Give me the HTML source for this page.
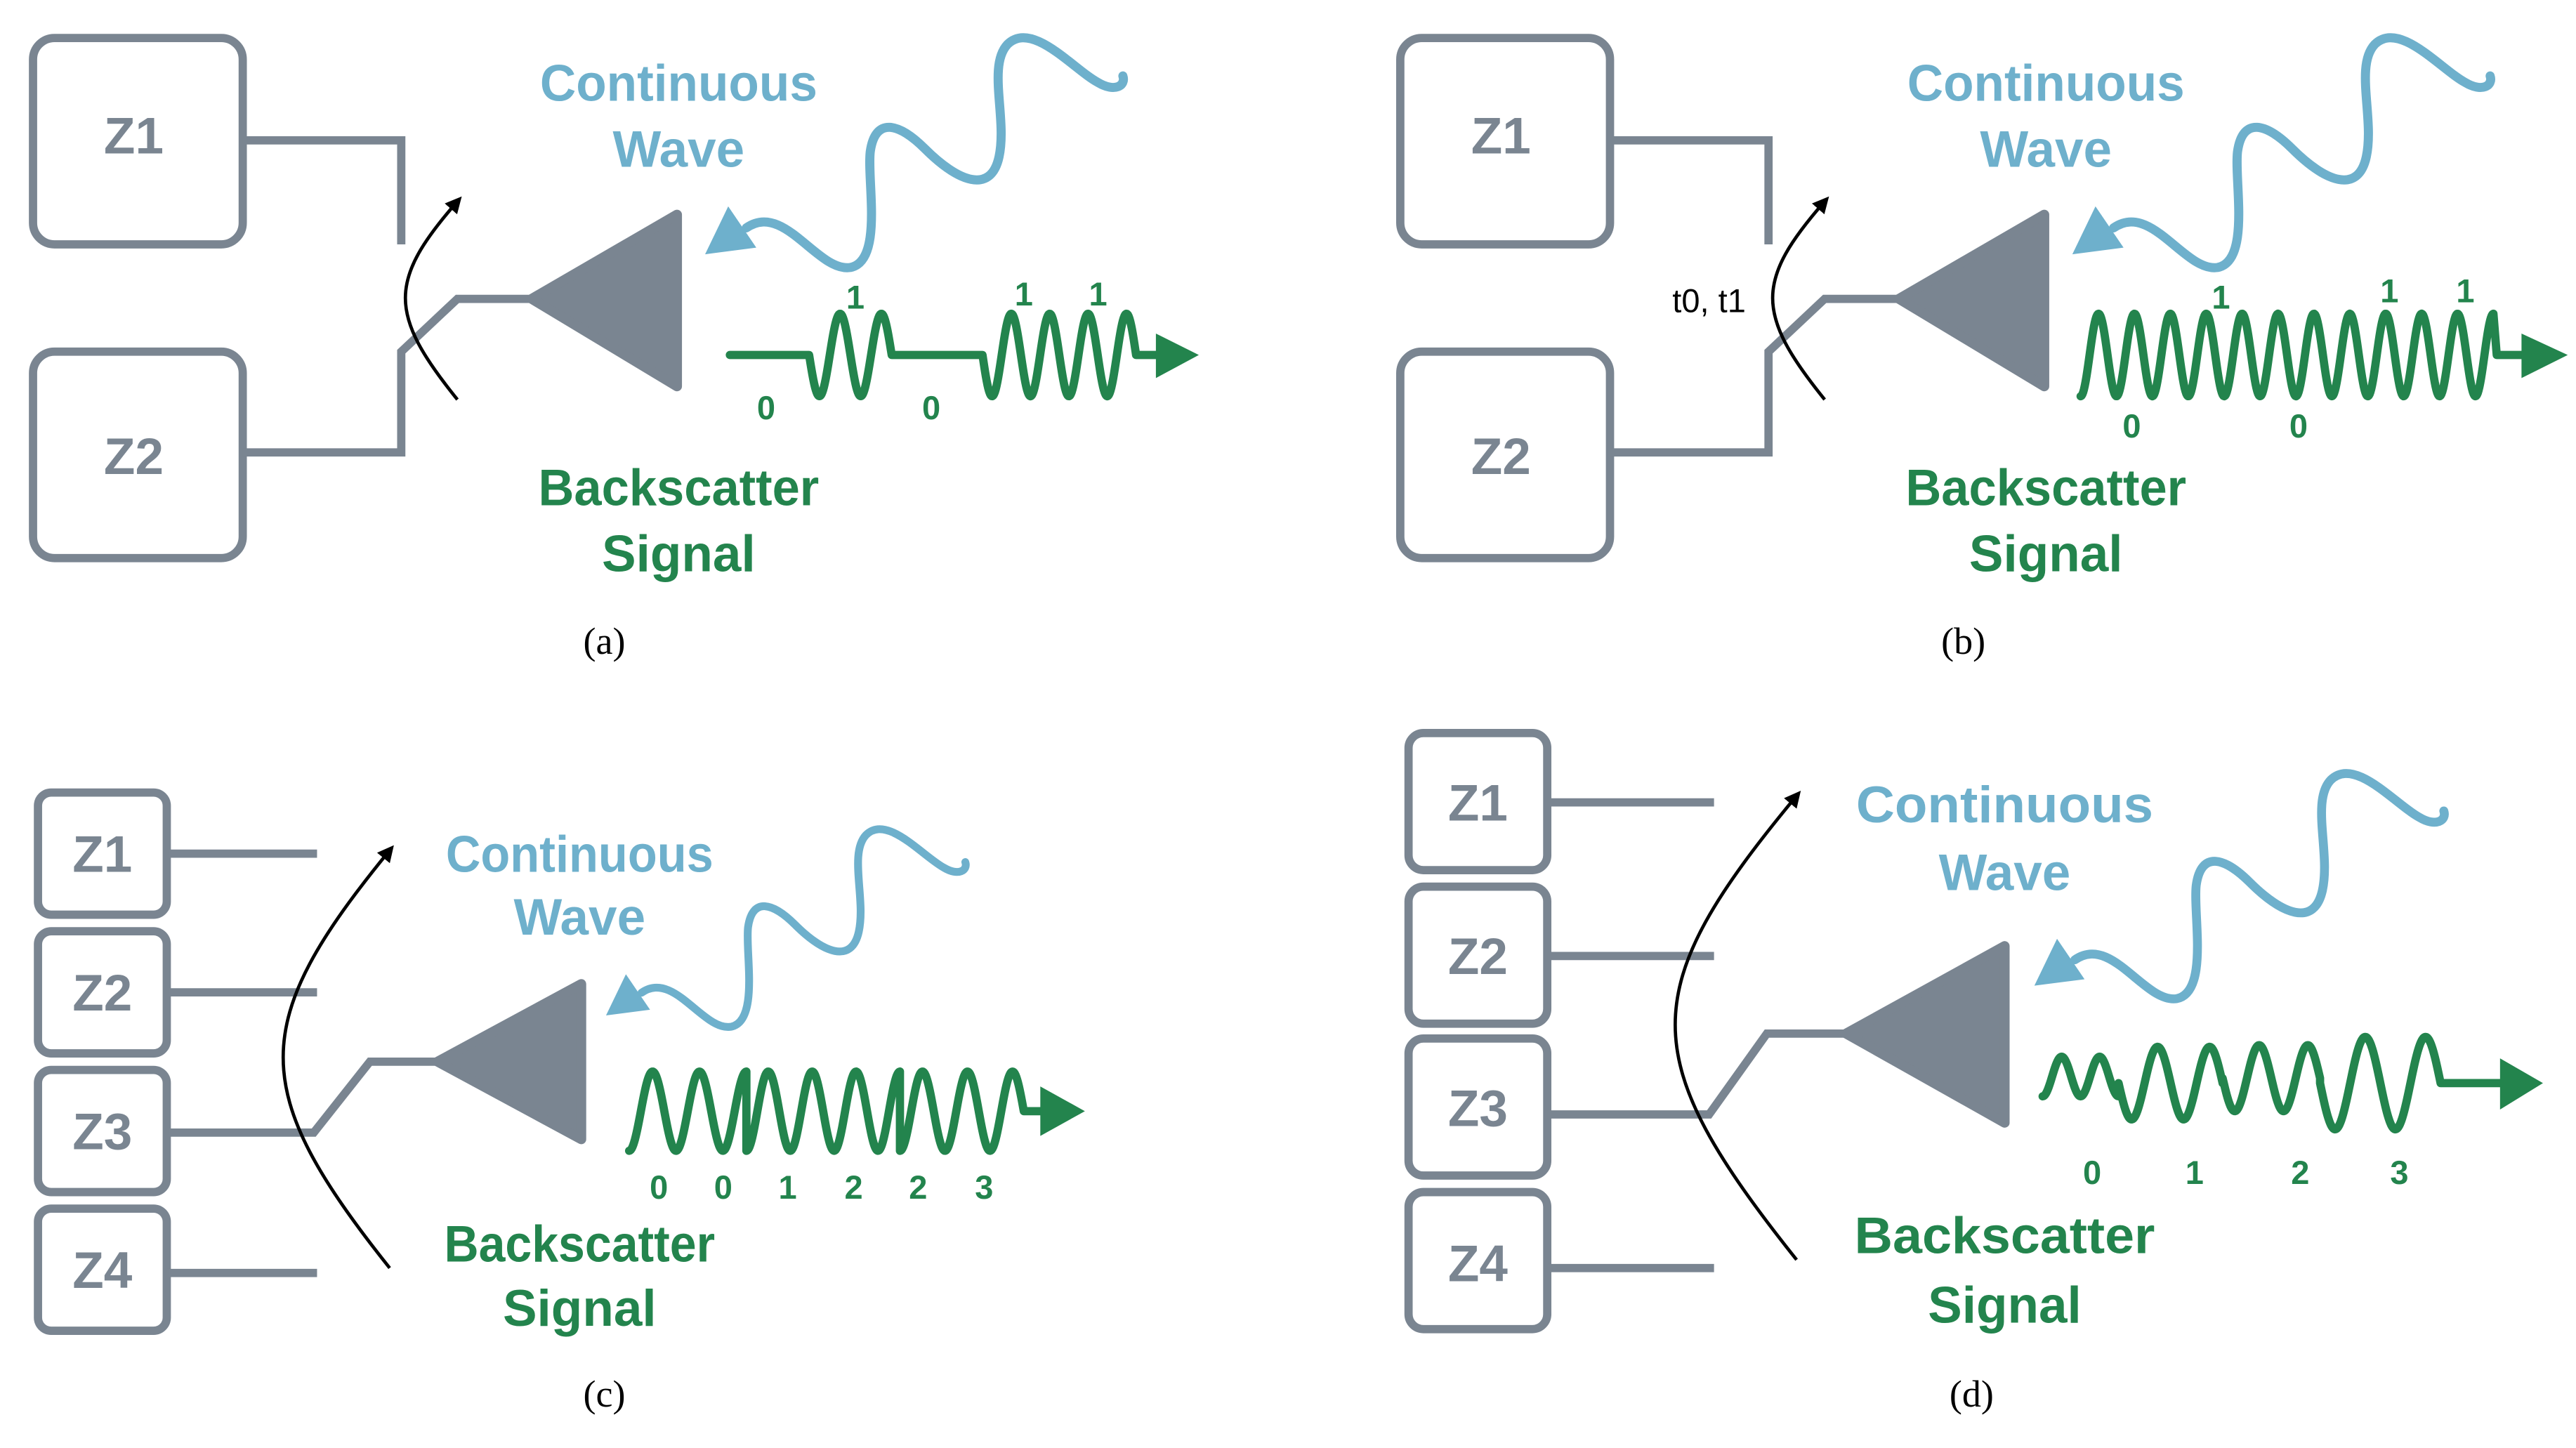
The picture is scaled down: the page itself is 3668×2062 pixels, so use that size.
<!DOCTYPE html>
<html><head><meta charset="utf-8">
<style>
html,body{margin:0;padding:0;background:#fff;}
svg{display:block;}
.lb{font-family:"Liberation Sans Narrow","Liberation Sans",sans-serif;font-weight:bold;text-anchor:middle;}
.cw{fill:#6eb0cc;font-size:31px;}
.bs{fill:#23844d;font-size:31px;}
.z{fill:#7a8591;font-size:31px;}
.n{fill:#23844d;font-size:20px;}
.cap{font-family:"Liberation Serif",serif;font-size:23px;text-anchor:middle;fill:#000;}
.box{fill:none;stroke:#7a8591;stroke-width:5;}
.wire{fill:none;stroke:#7a8591;stroke-width:5;stroke-linejoin:miter;}
.arc{fill:none;stroke:#000;stroke-width:2;}
.blue{fill:none;stroke:#6eb0cc;stroke-width:5.5;stroke-linecap:round;}
.sig{fill:none;stroke:#23844d;stroke-width:5;stroke-linecap:round;stroke-linejoin:round;}
</style></head><body>
<svg id="s" width="3668" height="2062" viewBox="0 0 1560 877" preserveAspectRatio="none" xmlns="http://www.w3.org/2000/svg">
<defs>
<g id="bw">
<path class="blue" d="M452,138 C475,122 495,165 515,162 C535,158 525,110 527,92 C530,70 545,75 560,90 C580,110 600,118 605,95 C610,72 598,40 610,27 C625,12 650,42 665,50 C675,56 682,52 680,46"/>
<polygon fill="#6eb0cc" points="427,154 441,125 458,150"/>
</g>
<marker id="ah" markerWidth="10" markerHeight="10" refX="6" refY="5" orient="auto" markerUnits="userSpaceOnUse"><polygon points="0,0 10,5 0,10" fill="#000"/></marker>
</defs>

<!-- Panel a -->
<rect class="box" x="20" y="23" width="127" height="125" rx="13"/>
<rect class="box" x="20" y="213" width="127" height="125" rx="13"/>
<text class="lb z" x="81" y="93">Z1</text>
<text class="lb z" x="81" y="287">Z2</text>
<path class="wire" d="M147,85 H243 V148"/>
<path class="wire" d="M147,274 H243 V213 L277,181 H325"/>
<path fill="#7a8591" stroke="#7a8591" stroke-width="6" stroke-linejoin="round" d="M322,181 L410,130 L410,234 Z"/>
<path class="arc" d="M277,242 C235,190 235,170 277,122" marker-end="url(#ah)"/>
<use href="#bw"/>
<path id="sa" class="sig"/>
<polygon fill="#23844d" points="700,202 726,215 700,229"/>
<text class="lb cw" x="411" y="61" textLength="168" lengthAdjust="spacingAndGlyphs">Continuous</text>
<text class="lb cw" x="411" y="101">Wave</text>
<text class="lb bs" x="411" y="306" textLength="170" lengthAdjust="spacingAndGlyphs">Backscatter</text>
<text class="lb bs" x="411" y="346">Signal</text>
<text class="lb n" x="464" y="254">0</text><text class="lb n" x="518" y="187">1</text>
<text class="lb n" x="564" y="254">0</text><text class="lb n" x="620" y="185">1</text><text class="lb n" x="665" y="185">1</text>
<text class="cap" x="366" y="396">(a)</text>

<!-- Panel b -->
<g transform="translate(828,0)">
<rect class="box" x="20" y="23" width="127" height="125" rx="13"/>
<rect class="box" x="20" y="213" width="127" height="125" rx="13"/>
<text class="lb z" x="81" y="93">Z1</text>
<text class="lb z" x="81" y="287">Z2</text>
<path class="wire" d="M147,85 H243 V148"/>
<path class="wire" d="M147,274 H243 V213 L277,181 H325"/>
<path fill="#7a8591" stroke="#7a8591" stroke-width="6" stroke-linejoin="round" d="M322,181 L410,130 L410,234 Z"/>
<path class="arc" d="M277,242 C235,190 235,170 277,122" marker-end="url(#ah)"/>
<use href="#bw"/>
<text class="lb cw" x="411" y="61" textLength="168" lengthAdjust="spacingAndGlyphs">Continuous</text>
<text class="lb cw" x="411" y="101">Wave</text>
<text class="lb bs" x="411" y="306" textLength="170" lengthAdjust="spacingAndGlyphs">Backscatter</text>
<text class="lb bs" x="411" y="346">Signal</text>
<text x="207" y="189" font-family="Liberation Sans,sans-serif" font-size="20" text-anchor="middle">t0, t1</text>
<text class="cap" x="361" y="396">(b)</text>
</g>
<path id="sb" class="sig"/>
<polygon fill="#23844d" points="1527,202 1555,215 1527,229"/>
<text class="lb n" x="1345" y="187">1</text><text class="lb n" x="1447" y="183">1</text><text class="lb n" x="1493" y="183">1</text>
<text class="lb n" x="1291" y="265">0</text><text class="lb n" x="1392" y="265">0</text>

<!-- Panel c -->
<rect class="box" x="23" y="480" width="78" height="74" rx="8"/>
<rect class="box" x="23" y="564" width="78" height="74" rx="8"/>
<rect class="box" x="23" y="648" width="78" height="74" rx="8"/>
<rect class="box" x="23" y="732" width="78" height="74" rx="8"/>
<text class="lb z" x="62" y="528">Z1</text><text class="lb z" x="62" y="612">Z2</text>
<text class="lb z" x="62" y="696">Z3</text><text class="lb z" x="62" y="780">Z4</text>
<path class="wire" d="M101,517 H192 M101,601 H192 M101,771 H192"/>
<path class="wire" d="M101,686 H190 L224,643 H268"/>
<path fill="#7a8591" stroke="#7a8591" stroke-width="6" stroke-linejoin="round" d="M265,643 L352,596 L352,690 Z"/>
<path class="arc" d="M236,768 C150,660 150,620 236,515" marker-end="url(#ah)"/>
<g transform="translate(367,615) scale(0.86) translate(-427,-154)"><use href="#bw"/></g>
<path id="sc" class="sig"/>
<polygon fill="#23844d" points="630,658 657,673 630,688"/>
<text class="lb cw" x="351" y="528" textLength="162" lengthAdjust="spacingAndGlyphs">Continuous</text>
<text class="lb cw" x="351" y="566">Wave</text>
<text class="lb bs" x="351" y="764" textLength="164" lengthAdjust="spacingAndGlyphs">Backscatter</text>
<text class="lb bs" x="351" y="803">Signal</text>
<text class="lb n" x="399" y="726">0</text><text class="lb n" x="438" y="726">0</text><text class="lb n" x="477" y="726">1</text>
<text class="lb n" x="517" y="726">2</text><text class="lb n" x="556" y="726">2</text><text class="lb n" x="596" y="726">3</text>
<text class="cap" x="366" y="852">(c)</text>

<!-- Panel d -->
<rect class="box" x="853" y="444" width="84" height="83" rx="9"/>
<rect class="box" x="853" y="537" width="84" height="83" rx="9"/>
<rect class="box" x="853" y="629" width="84" height="83" rx="9"/>
<rect class="box" x="853" y="722" width="84" height="83" rx="9"/>
<text class="lb z" x="895" y="497">Z1</text><text class="lb z" x="895" y="590">Z2</text>
<text class="lb z" x="895" y="682">Z3</text><text class="lb z" x="895" y="776">Z4</text>
<path class="wire" d="M937,486 H1038 M937,579 H1038 M937,768 H1038"/>
<path class="wire" d="M937,675 H1035 L1070,626 H1121"/>
<path fill="#7a8591" stroke="#7a8591" stroke-width="6" stroke-linejoin="round" d="M1118,626 L1214,573 L1214,680 Z"/>
<path class="arc" d="M1088,763 C990,640 990,600 1088,482" marker-end="url(#ah)"/>
<g transform="translate(1232,597) scale(0.98) translate(-427,-154)"><use href="#bw"/></g>
<path id="sd" class="sig"/>
<polygon fill="#23844d" points="1514,641 1540,656 1514,672"/>
<text class="lb cw" x="1214" y="498" textLength="180" lengthAdjust="spacingAndGlyphs">Continuous</text>
<text class="lb cw" x="1214" y="539">Wave</text>
<text class="lb bs" x="1214" y="759" textLength="182" lengthAdjust="spacingAndGlyphs">Backscatter</text>
<text class="lb bs" x="1214" y="801">Signal</text>
<text class="lb n" x="1267" y="717">0</text><text class="lb n" x="1329" y="717">1</text>
<text class="lb n" x="1393" y="717">2</text><text class="lb n" x="1453" y="717">3</text>
<text class="cap" x="1194" y="852">(d)</text>
</svg>
<script>
function sine(x0,x1,y,amp,cyc,phase){
  var s="",n=Math.max(20,Math.round((x1-x0)*2));
  for(var i=0;i<=n;i++){var t=i/n,x=x0+(x1-x0)*t;
    var yy=y-amp*Math.sin(2*Math.PI*cyc*t+(phase||0));
    s+=(i?" L":"")+x.toFixed(2)+","+yy.toFixed(2);}
  return s;
}
// panel a
var y=215;
document.getElementById("sa").setAttribute("d","M442,"+y+" L490,"+y+" L"+sine(490,540,y,-25,2)+" L595,"+y+" L"+sine(595,688,y,-25,4)+" L702,"+y);
// panel b
document.getElementById("sb").setAttribute("d","M"+sine(1260,1510,215,-25,11.5,Math.PI/2)+" L1512,215 L1528,215");
// panel c
var yc=673,d="M"+sine(381,452,yc,-24,2.5,Math.PI/2);
d+=" L"+sine(452,545,yc,-24,3.5,Math.PI/2)+" L"+sine(545,620,yc,-24,2.75,Math.PI/2)+" L620,"+yc+" L632,"+yc;
document.getElementById("sc").setAttribute("d",d);
// panel d
var yd=656,dd="M"+sine(1237,1283,yd-4,-12,2,Math.PI/2);
dd+=" L"+sine(1283,1346,yd,-22,2)+" L"+sine(1346,1405,yd-3,-20,2)+" L"+sine(1405,1478,yd,-28,2)+" L1490,"+yd+" L1515,"+yd;
document.getElementById("sd").setAttribute("d",dd);
</script>
</body></html>
